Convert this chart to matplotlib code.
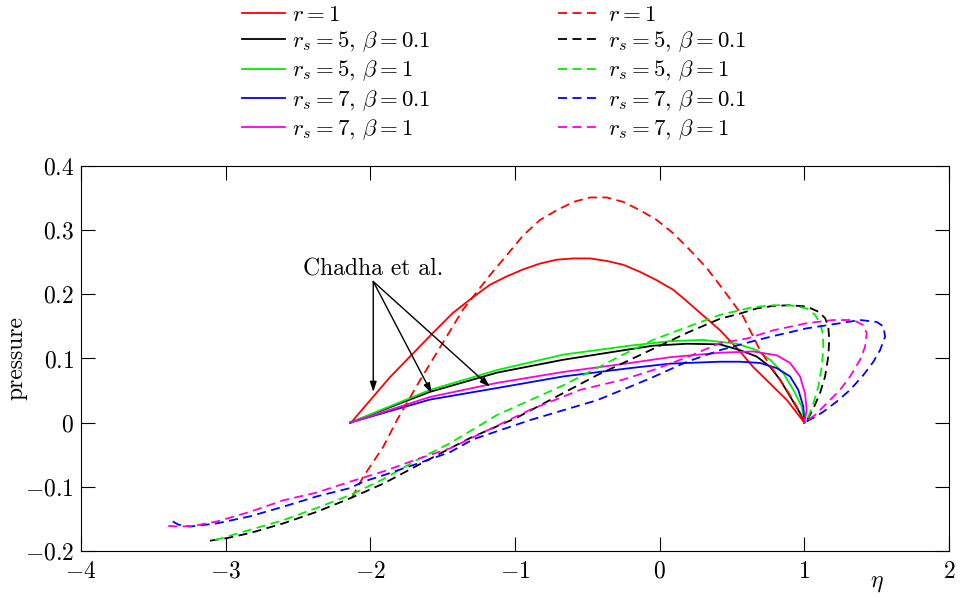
import matplotlib
matplotlib.use('Agg')
import matplotlib.pyplot as plt

plt.rcParams['mathtext.fontset'] = 'cm'
plt.rcParams['font.family'] = 'serif'
plt.rcParams['font.serif'] = ['cmr10', 'DejaVu Serif']
plt.rcParams['axes.formatter.use_mathtext'] = True

# solid curves
r1_x = [-2.134, -1.864, -1.567, -1.430, -1.288, -1.173, -1.057, -0.943, -0.827, -0.712, -0.597, -0.482,
        -0.366, -0.251, -0.136, -0.021, 0.094, 0.163, 0.417, 0.555, 0.645, 0.785, 0.880, 1.0]
r1_y = [0.0, 0.071, 0.140, 0.171, 0.196, 0.215, 0.228, 0.239, 0.248, 0.254, 0.256, 0.256,
        0.252, 0.246, 0.235, 0.222, 0.207, 0.194, 0.144, 0.111, 0.087, 0.056, 0.035, 0.0]

s5b01_x = [-2.141, -1.588, -1.124, -0.668, -0.274, -0.046, 0.189, 0.417, 0.555, 0.671, 0.763, 0.832,
           0.901, 0.970, 1.0]
s5b01_y = [0.0, 0.048, 0.078, 0.098, 0.112, 0.120, 0.123, 0.122, 0.113, 0.103, 0.087, 0.067,
           0.041, 0.015, 0.0]

s5b1_x = [-2.141, -1.588, -1.124, -0.668, -0.205, 0.071, 0.299, 0.534, 0.671, 0.763, 0.855, 0.924,
          0.982, 1.0]
s5b1_y = [0.0, 0.051, 0.082, 0.106, 0.120, 0.127, 0.129, 0.123, 0.113, 0.098, 0.077, 0.051,
          0.025, 0.0]

s7b01_x = [-2.141, -1.588, -1.124, -0.668, -0.205, 0.071, 0.417, 0.555, 0.693, 0.809, 0.901, 0.958,
           0.993, 1.0]
s7b01_y = [0.0, 0.036, 0.054, 0.072, 0.085, 0.092, 0.095, 0.095, 0.093, 0.085, 0.072, 0.051,
           0.025, 0.0]

s7b1_x = [-2.141, -1.588, -1.124, -0.668, -0.205, 0.071, 0.417, 0.645, 0.809, 0.901, 0.970, 1.004,
          1.016, 1.0]
s7b1_y = [0.0, 0.040, 0.062, 0.079, 0.093, 0.102, 0.109, 0.111, 0.105, 0.093, 0.072, 0.046,
          0.020, 0.0]

# dashed curves
d_r1_x = [-2.127, -2.051, -1.912, -1.816, -1.657, -1.360, -1.173, -1.057, -0.943, -0.827, -0.712, -0.597,
          -0.482, -0.366, -0.251, -0.136, -0.021, 0.094, 0.209, 0.325, 0.440, 0.578, 0.693, 0.785,
          0.878, 0.947, 1.0]
d_r1_y = [-0.117, -0.085, -0.038, 0.004, 0.066, 0.176, 0.230, 0.261, 0.292, 0.316, 0.331, 0.344,
          0.351, 0.351, 0.344, 0.331, 0.316, 0.295, 0.269, 0.241, 0.207, 0.165, 0.113, 0.082,
          0.051, 0.025, 0.0]

d_s5b01_x = [-3.108, -2.993, -2.831, -2.602, -2.371, -2.141, -1.910, -1.677, -1.449, -1.311, -0.986,
             -0.668, -0.433, -0.205, 0.189, 0.417, 0.555, 0.671, 0.785, 0.900, 1.016, 1.096, 1.143,
             1.165, 1.172, 1.165, 1.143, 1.108, 1.062, 1.027, 1.0]
d_s5b01_y = [-0.184, -0.180, -0.172, -0.157, -0.139, -0.118, -0.095, -0.067, -0.040, -0.024, 0.008,
             0.046, 0.074, 0.098, 0.140, 0.162, 0.170, 0.178, 0.182, 0.183, 0.181, 0.173, 0.163,
             0.150, 0.129, 0.103, 0.072, 0.046, 0.022, 0.007, 0.0]

d_s5b1_x = [-3.074, -2.831, -2.602, -2.371, -2.141, -1.910, -1.677, -1.449, -1.124, -0.668, -0.433,
            -0.254, -0.046, 0.189, 0.417, 0.645, 0.785, 0.900, 1.016, 1.074, 1.108, 1.127, 1.131,
            1.120, 1.096, 1.062, 1.027, 1.0]
d_s5b1_y = [-0.183, -0.167, -0.152, -0.133, -0.113, -0.088, -0.058, -0.032, 0.012, 0.058, 0.085,
            0.106, 0.129, 0.149, 0.168, 0.180, 0.183, 0.183, 0.178, 0.168, 0.155, 0.139, 0.118,
            0.087, 0.056, 0.030, 0.009, 0.0]

d_s7b01_x = [-3.366, -3.327, -3.247, -3.062, -2.831, -2.602, -2.371, -2.141, -2.049, -1.910, -1.677,
             -1.449, -1.290, -0.896, -0.433, -0.205, -0.046, 0.189, 0.417, 0.645, 0.785, 1.016, 1.246,
             1.385, 1.500, 1.546, 1.558, 1.523, 1.477, 1.407, 1.316, 1.224, 1.131, 1.074, 1.0]
d_s7b01_y = [-0.154, -0.159, -0.162, -0.157, -0.146, -0.131, -0.115, -0.102, -0.092, -0.082, -0.064,
             -0.046, -0.026, 0.004, 0.035, 0.056, 0.071, 0.095, 0.113, 0.127, 0.135, 0.147, 0.155,
             0.160, 0.157, 0.150, 0.134, 0.113, 0.095, 0.074, 0.051, 0.033, 0.017, 0.009, 0.0]

d_s7b1_x = [-3.397, -3.316, -3.224, -3.062, -2.831, -2.602, -2.371, -2.141, -1.910, -1.677, -1.449,
            -0.896, -0.551, -0.254, -0.046, 0.189, 0.417, 0.601, 0.785, 1.016, 1.200, 1.338, 1.407,
            1.431, 1.419, 1.385, 1.316, 1.246, 1.154, 1.074, 1.0]
d_s7b1_y = [-0.161, -0.162, -0.161, -0.154, -0.139, -0.121, -0.109, -0.092, -0.076, -0.057, -0.040,
            0.020, 0.051, 0.067, 0.082, 0.102, 0.124, 0.131, 0.144, 0.155, 0.160, 0.160, 0.152,
            0.139, 0.118, 0.098, 0.072, 0.051, 0.030, 0.012, 0.0]

labels = [r'$r = 1$', r'$r_s = 5,\,\beta = 0.1$', r'$r_s = 5,\,\beta = 1$',
          r'$r_s = 7,\,\beta = 0.1$', r'$r_s = 7,\,\beta = 1$']
colors = ['#ff0000', '#000000', '#00ee00', '#0000ff', '#ff00dd']

xticks = [-4, -3, -2, -1, 0, 1, 2]
xticklabels = [r'$-4$', r'$-3$', r'$-2$', r'$-1$', r'$0$', r'$1$', r'$2$']
yticks = [-0.2, -0.1, 0, 0.1, 0.2, 0.3, 0.4]
yticklabels = [r'$-0.2$', r'$-0.1$', r'$0$', r'$0.1$', r'$0.2$', r'$0.3$', r'$0.4$']

arrow_src = (-1.980, 0.220)
arrow_ends = [(-1.980, 0.048), (-1.576, 0.046), (-1.173, 0.056)]

fig = plt.figure(figsize=(9.6, 5.97), dpi=100)
ax = fig.add_axes([0.0844, 0.0771, 0.9042, 0.6448])

solid = [(r1_x, r1_y), (s5b01_x, s5b01_y), (s5b1_x, s5b1_y), (s7b01_x, s7b01_y), (s7b1_x, s7b1_y)]
dashed = [(d_r1_x, d_r1_y), (d_s5b01_x, d_s5b01_y), (d_s5b1_x, d_s5b1_y),
          (d_s7b01_x, d_s7b01_y), (d_s7b1_x, d_s7b1_y)]

solid_h = []
for (x, y), c, lab in zip(solid, colors, labels):
    h, = ax.plot(x, y, color=c, lw=1.3, label=lab)
    solid_h.append(h)
dash_h = []
for (x, y), c, lab in zip(dashed, colors, labels):
    h, = ax.plot(x, y, color=c, lw=1.3, dashes=(5, 3), label=lab)
    dash_h.append(h)

ax.text(arrow_src[0], 0.2286, 'Chadha et al.', ha='center', va='baseline', fontsize=17)
for end in arrow_ends:
    ax.annotate('', xy=end, xytext=arrow_src,
                arrowprops=dict(arrowstyle='-|>,head_length=0.6,head_width=0.2', color='black', lw=1.0,
                                shrinkA=0, shrinkB=0))

ax.set_xlim(-4, 2)
ax.set_ylim(-0.2, 0.4)
ax.set_xticks(xticks)
ax.set_xticklabels(xticklabels)
ax.set_yticks(yticks)
ax.set_yticklabels(yticklabels)
ax.tick_params(direction='in', length=10, width=0.8, top=True, right=True, labelsize=17)
ax.tick_params(axis='x', pad=7)
ax.tick_params(axis='y', pad=5)
for s in ax.spines.values():
    s.set_linewidth(0.8)

ax.set_ylabel('pressure', fontsize=17)
ax.yaxis.set_label_coords(-0.062, 0.5)
ax.text(1.5, -0.25, r'$\eta$', ha='center', va='center', fontsize=17)

leg_kw = dict(loc='upper left', frameon=False, fontsize=16.5, borderaxespad=0, borderpad=0,
              handlelength=1.88, handletextpad=0.3, labelspacing=0.2)
fig.legend(handles=solid_h, labels=labels, bbox_to_anchor=(242 / 960, 1 - 5 / 597), **leg_kw)
fig.legend(handles=dash_h, labels=labels, bbox_to_anchor=(558 / 960, 1 - 5 / 597), **leg_kw)

fig.savefig('out.png', dpi=100)
